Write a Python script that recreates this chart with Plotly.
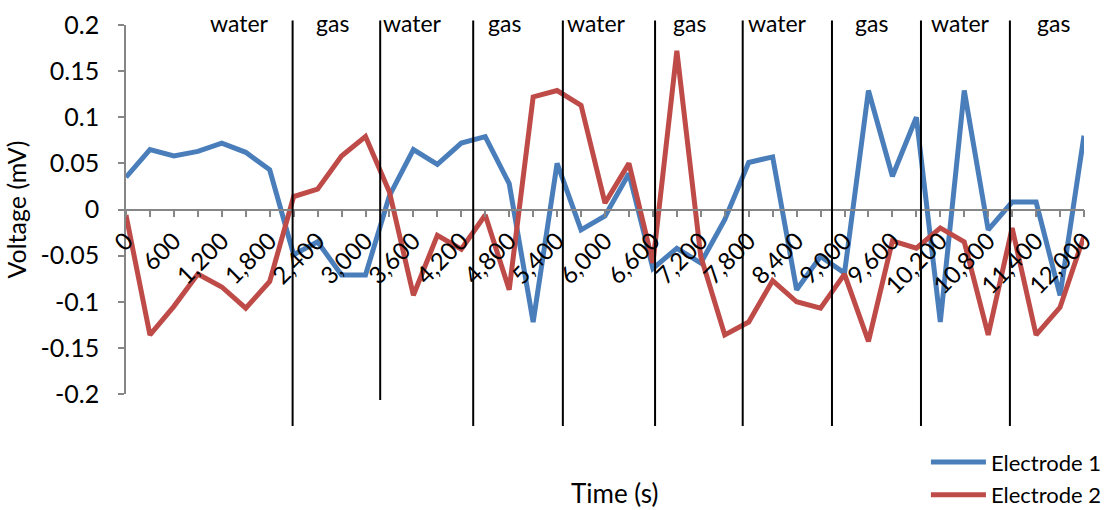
import plotly.graph_objects as go

time_s = [0, 300, 600, 900, 1200, 1500, 1800, 2100, 2400, 2700, 3000, 3300, 3600, 3900,
          4200, 4500, 4800, 5100, 5400, 5700, 6000, 6300, 6600, 6900, 7200, 7500, 7800,
          8100, 8400, 8700, 9000, 9300, 9600, 9900, 10200, 10500, 10800, 11100, 11400,
          11700, 12000]

electrode_1 = [0.035, 0.065, 0.058, 0.063, 0.072, 0.062, 0.043, -0.049, -0.035, -0.071,
               -0.071, 0.015, 0.065, 0.049, 0.072, 0.079, 0.028, -0.122, 0.050, -0.022,
               -0.007, 0.039, -0.064, -0.042, -0.058, -0.011, 0.051, 0.057, -0.087, -0.051,
               -0.069, 0.129, 0.036, 0.100, -0.122, 0.129, -0.022, 0.008, 0.008, -0.093, 0.080]

electrode_2 = [-0.006, -0.136, -0.105, -0.070, -0.084, -0.107, -0.078, 0.014, 0.022, 0.058,
               0.079, 0.019, -0.093, -0.028, -0.043, -0.006, -0.087, 0.122, 0.129, 0.113,
               0.007, 0.050, -0.058, 0.172, -0.051, -0.136, -0.122, -0.077, -0.100, -0.107,
               -0.070, -0.143, -0.034, -0.042, -0.020, -0.035, -0.136, -0.020, -0.136, -0.106,
               -0.029]

phase_boundaries = [2087, 3184, 4349, 5472, 6627, 7725, 8843, 9958, 11072]
phase_names = ["water", "gas", "water", "gas", "water", "gas", "water", "gas", "water", "gas"]
phase_label_x = [1427, 2592, 3594, 4746, 5897, 7062, 8164, 9341, 10455, 11619]

y_tick_vals = [0.2, 0.15, 0.1, 0.05, 0, -0.05, -0.1, -0.15, -0.2]
y_tick_text = ["0.2", "0.15", "0.1", "0.05", "0", "-0.05", "-0.1", "-0.15", "-0.2"]

FONT = "Lato"
AXIS_GRAY = "#868686"

fig = go.Figure()
fig.add_trace(go.Scatter(x=time_s, y=electrode_1, mode="lines", name="Electrode 1",
                         legendgroup="a",
                         line=dict(color="#4A7EBB", width=5)))
fig.add_trace(go.Scatter(x=time_s, y=electrode_2, mode="lines", name="Electrode 2",
                         legendgroup="b",
                         line=dict(color="#BE4B48", width=5)))

shapes = []
for i, xb in enumerate(phase_boundaries):
    shapes.append(dict(type="line", xref="x", yref="paper", x0=xb, x1=xb,
                       y0=1.012, y1=(-0.016 if i == 1 else -0.087),
                       line=dict(color="black", width=2), layer="above"))

annotations = []
for name, xl in zip(phase_names, phase_label_x):
    annotations.append(dict(x=xl, y=1.006, xref="x", yref="paper", text=name,
                            showarrow=False, yanchor="middle", xanchor="center",
                            font=dict(family=FONT, size=23, color="black")))
annotations.append(dict(x=0.51, y=-0.268, xref="paper", yref="paper", text="Time (s)",
                        showarrow=False, xanchor="center", yanchor="middle",
                        font=dict(family=FONT, size=26, color="black")))

fig.update_layout(
    width=1107, height=510,
    margin=dict(l=126, r=23, t=25, b=116, autoexpand=False),
    paper_bgcolor="white", plot_bgcolor="white",
    font=dict(family=FONT, size=22, color="black"),
    shapes=shapes,
    annotations=annotations,
    showlegend=True,
    legend=dict(x=0.835, y=-0.128, xanchor="left", yanchor="top",
                font=dict(family=FONT, size=22, color="black"),
                itemwidth=55,
                tracegroupgap=1, bgcolor="rgba(0,0,0,0)"),
    xaxis=dict(range=[0, 12000], anchor="free", position=0.5,
               showgrid=False, zeroline=False,
               showline=True, linecolor=AXIS_GRAY, linewidth=1.5,
               ticks="outside", ticklen=7, tickcolor=AXIS_GRAY, tickwidth=1.5,
               tick0=0, dtick=600, tickformat=",d", tickangle=-45,
               minor=dict(dtick=300, tick0=0, ticks="outside", ticklen=7,
                          tickcolor=AXIS_GRAY, tickwidth=1.5, showgrid=False),
               tickfont=dict(family=FONT, size=24, color="black")),
    yaxis=dict(range=[-0.2, 0.2], showgrid=False, zeroline=False,
               showline=True, linecolor=AXIS_GRAY, linewidth=1.5,
               ticks="outside", ticklen=6, tickcolor=AXIS_GRAY, tickwidth=1.5,
               tickvals=y_tick_vals, ticktext=y_tick_text,
               ticklabelstandoff=14,
               tickfont=dict(family=FONT, size=25, color="black"),
               title=dict(text="Voltage (mV)", standoff=7,
                          font=dict(family=FONT, size=25, color="black"))),
)

fig.write_html("out.html")
